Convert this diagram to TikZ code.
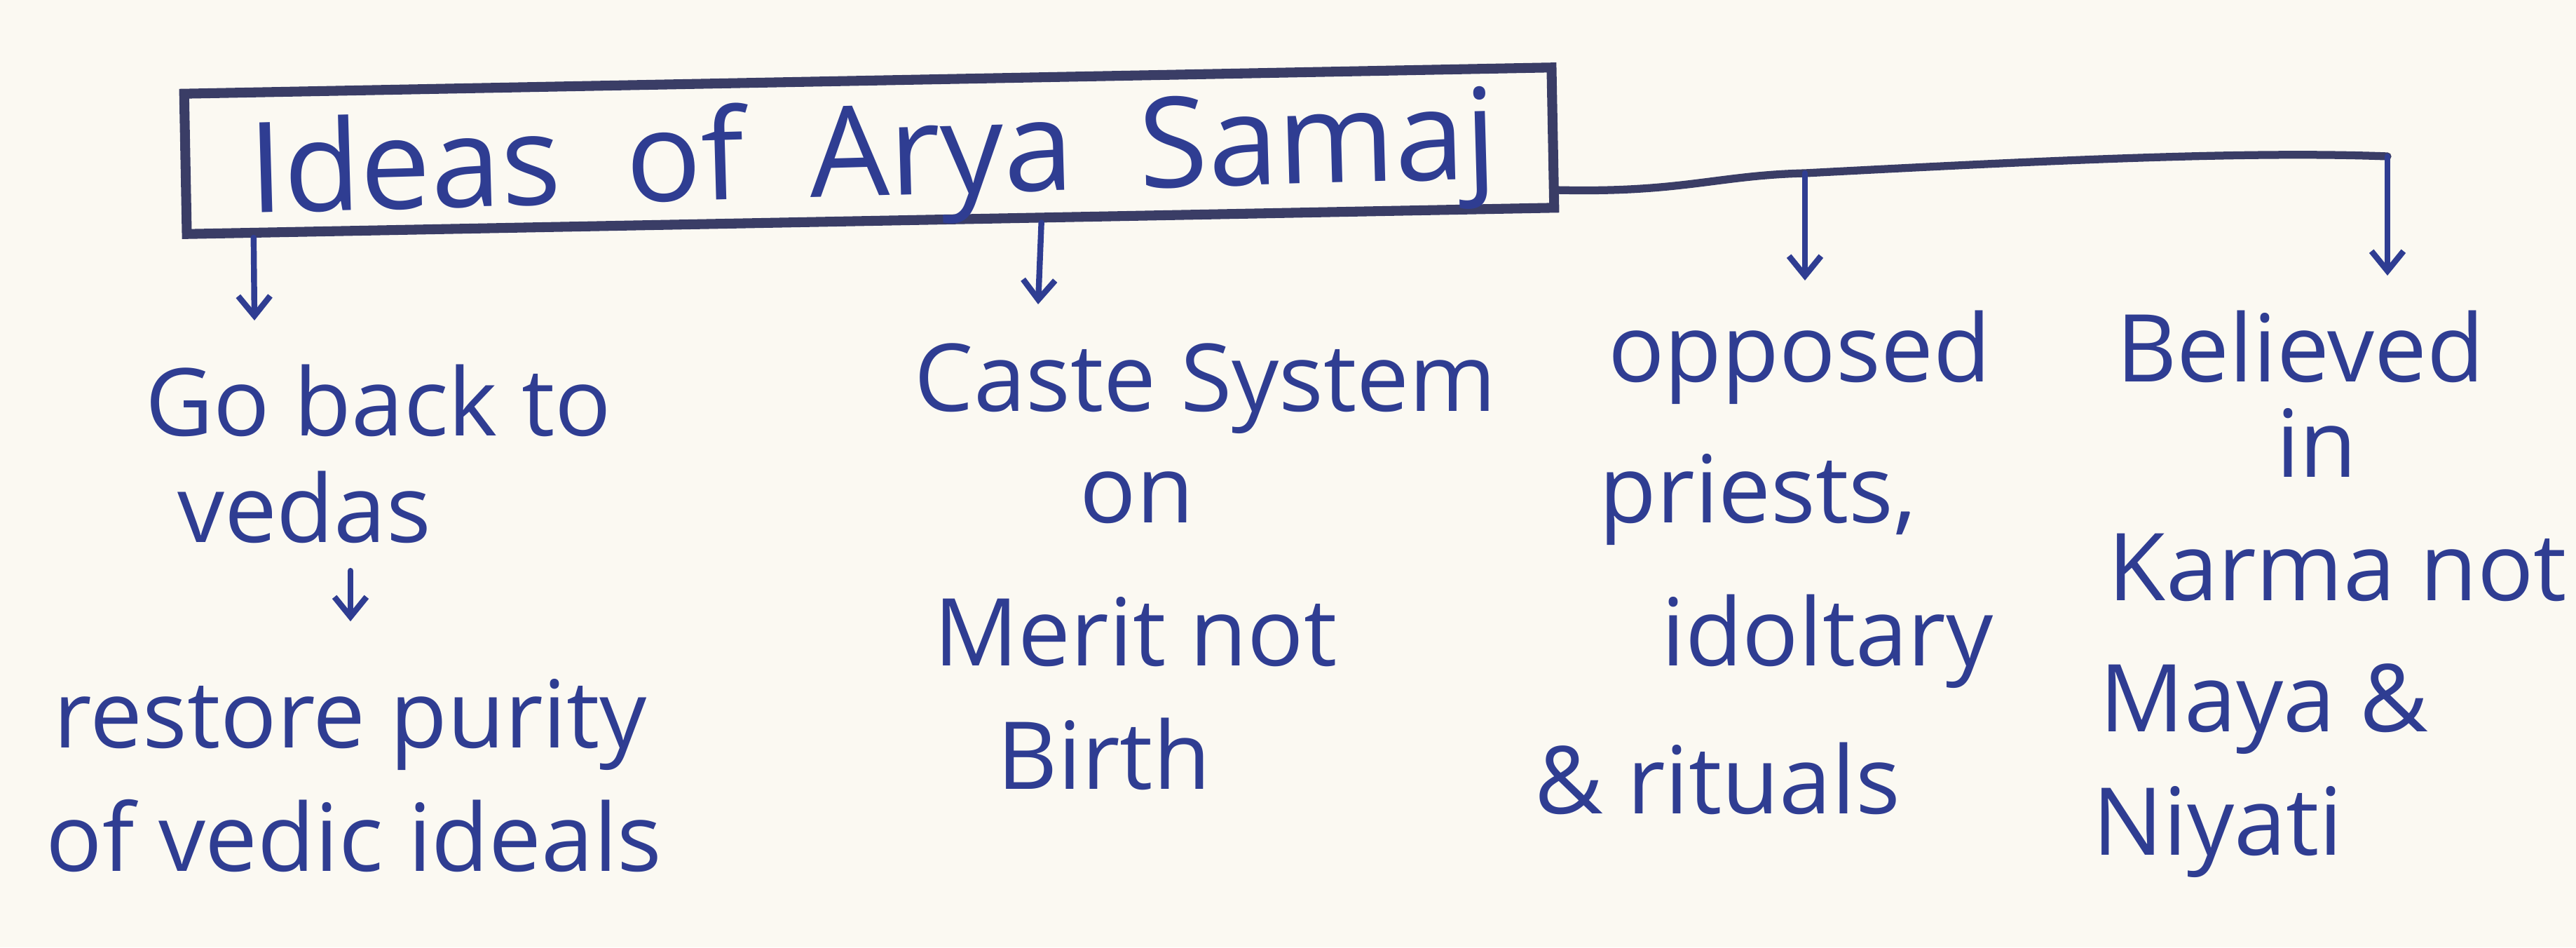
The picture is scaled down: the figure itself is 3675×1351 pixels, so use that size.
\documentclass[tikz,border=0pt]{standalone}
\usepackage{fontspec}
\setmainfont{Open Sans}
\usetikzlibrary{arrows.meta,calc}
\definecolor{paper}{HTML}{FBF9F2}
\definecolor{ink}{HTML}{2F3D92}
\definecolor{boxink}{HTML}{3A3D66}
\begin{document}
\begin{tikzpicture}[x=0.01cm,y=-0.01cm,
  txt/.style={text=ink, font=\fontsize{38}{44}\selectfont, anchor=base, inner sep=2pt},
  ttl/.style={text=ink, font=\fontsize{51}{58}\selectfont, inner sep=2pt},
  frame/.style={draw=boxink, line width=4pt, minimum width=19.5cm, minimum height=2cm, inner sep=0pt},
  arr/.style={draw=ink, line width=2.4pt, line cap=round, -{Straight Barb[length=8pt,width=13pt,line width=2.4pt]}},
  link/.style={draw=boxink, line width=3.2pt, line cap=round}]
\fill[paper] (0,0) rectangle (3675,1351);
\useasboundingbox (0,0) rectangle (3675,1351);

% title box
\node[frame, rotate=1.1] (box) at (1240,215) {};
\node[ttl, rotate=1.6] (title) at (1245,232) {Ideas\ \ of\ \ Arya\ \ Samaj};

% column 1
\node[txt] (go) at (540,621) {Go back to};
\node[txt] (vedas) at (434,773) {vedas};
\node[txt] (restore) at (500,1066) {restore purity};
\node[txt] (vedic) at (505,1242) {of vedic ideals};

% column 2
\node[txt] (caste) at (1720,586) {Caste System};
\node[txt] (on) at (1622,745) {on};
\node[txt] (merit) at (1620,949) {Merit not};
\node[txt] (birth) at (1575,1125) {Birth};

% column 3
\node[txt] (opposed) at (2567,544) {opposed};
\node[txt] (priests) at (2508,745) {priests,};
\node[txt] (idol) at (2607,949) {idoltary};
\node[txt] (rituals) at (2450,1160) {\& rituals};

% column 4
\node[txt] (believed) at (3282,544) {Believed};
\node[txt] (in) at (3305,680) {in};
\node[txt] (karma) at (3335,856) {Karma not};
\node[txt] (maya) at (3230,1043) {Maya \&};
\node[txt] (niyati) at (3164,1219) {Niyati};

% connector points
\coordinate (s1) at ($(box.south west)!0.052!(box.south east)$);
\coordinate (s2) at ($(box.south west)!0.624!(box.south east)$);
\coordinate (r0) at ($(box.north east)!0.85!(box.south east)$);
\coordinate (j3) at (2575,247);
\coordinate (j4) at (3406,223);
\coordinate (e1) at (363,457);
\coordinate (e2) at (1481,434);
\coordinate (e3) at (2575,400);
\coordinate (e4) at (3406,393);

\draw[arr] (s1) -- (e1);
\draw[arr] (s2) -- (e2);
\draw[link] (r0) .. controls (2400,275) and (2450,250) .. (j3)
  .. controls (2900,230) and (3200,215) .. (j4);
\draw[arr] (j3) -- (e3);
\draw[arr] (j4) -- (e4);
\draw[arr, shorten <=0.32cm, shorten >=0.74cm] (vedas.south -| restore.north) -- (restore.north);
\end{tikzpicture}
\end{document}
